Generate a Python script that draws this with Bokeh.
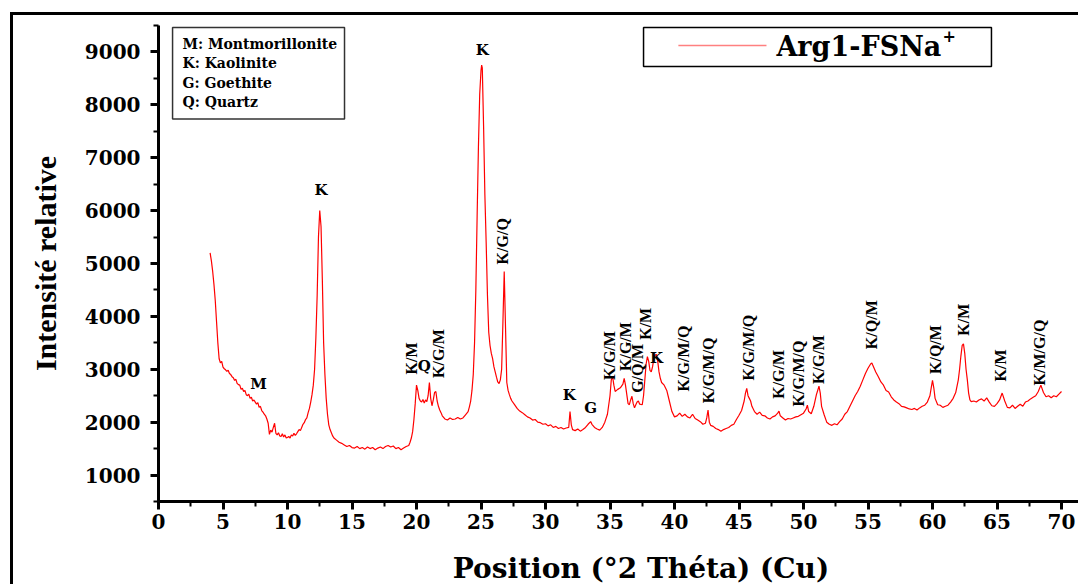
import math
from bokeh.plotting import figure
from bokeh.models import ColumnDataSource, SingleIntervalTicker, Range1d
from bokeh.core.properties import value
from bokeh.embed import file_html
from bokeh.resources import INLINE

# ---- data ----
two_theta = [
    4.0, 4.1, 4.2, 4.3, 4.4, 4.5, 4.6, 4.7, 4.8, 4.9, 5.0, 5.1, 5.2, 5.3, 5.4, 5.5, 5.6, 5.7, 5.8, 5.9,
    6.0, 6.1, 6.2, 6.3, 6.4, 6.5, 6.6, 6.7, 6.8, 6.9, 7.0, 7.1, 7.2, 7.3, 7.4, 7.5, 7.6, 7.7, 7.8, 7.9,
    8.0, 8.1, 8.2, 8.3, 8.4, 8.5, 8.6, 8.7, 8.8, 8.9, 9.0, 9.1, 9.2, 9.3, 9.4, 9.5, 9.6, 9.7, 9.8, 9.9,
    10.0, 10.1, 10.2, 10.3, 10.4, 10.5, 10.6, 10.7, 10.8, 10.9, 11.0, 11.1, 11.2, 11.3, 11.4, 11.5, 11.6, 11.7, 11.8, 11.9,
    12.0, 12.1, 12.2, 12.3, 12.4, 12.5, 12.6, 12.7, 12.8, 12.9, 13.0, 13.1, 13.2, 13.3, 13.4, 13.5, 13.6, 13.8,
    14.0, 14.2, 14.4, 14.6, 14.8, 15.0, 15.2, 15.4, 15.6, 15.8, 16.0, 16.2, 16.4, 16.6, 16.8, 17.0, 17.2, 17.4, 17.6, 17.8,
    18.0, 18.2, 18.4, 18.6, 18.8, 19.0, 19.2, 19.4, 19.5, 19.6, 19.7, 19.8, 19.9,
    20.0, 20.1, 20.2, 20.3, 20.4, 20.5, 20.6, 20.7, 20.8, 20.9, 21.0, 21.1, 21.2, 21.3, 21.4, 21.5, 21.6, 21.7, 21.8, 21.9,
    22.0, 22.2, 22.4, 22.6, 22.8, 23.0, 23.2, 23.4, 23.6, 23.8, 24.0, 24.1, 24.2, 24.3, 24.4, 24.5, 24.6, 24.7, 24.8, 24.9,
    25.0, 25.05, 25.1, 25.2, 25.3, 25.4, 25.5, 25.6, 25.7, 25.8, 25.9, 26.0, 26.1, 26.2, 26.3, 26.4, 26.5, 26.6, 26.7, 26.8, 26.9,
    27.0, 27.1, 27.2, 27.3, 27.4, 27.6, 27.8, 28.0, 28.2, 28.4, 28.6, 28.8, 29.0, 29.2, 29.4, 29.6, 29.8,
    30.0, 30.2, 30.4, 30.6, 30.8, 31.0, 31.2, 31.4, 31.6, 31.8, 31.9, 32.0, 32.1, 32.3, 32.5, 32.7, 32.9,
    33.1, 33.3, 33.5, 33.6, 33.8, 34.0, 34.2, 34.4, 34.6, 34.8, 35.0, 35.1, 35.2, 35.3, 35.4, 35.6, 35.8,
    36.0, 36.1, 36.2, 36.4, 36.5, 36.6, 36.7, 36.8, 36.9, 37.0, 37.1, 37.2, 37.3, 37.5, 37.6, 37.7, 37.8, 37.9,
    38.0, 38.1, 38.2, 38.3, 38.4, 38.5, 38.6, 38.7, 38.8, 38.9, 39.0, 39.2, 39.4, 39.6, 39.8,
    40.0, 40.2, 40.4, 40.6, 40.8, 41.0, 41.2, 41.4, 41.6, 41.8, 42.0, 42.2, 42.4, 42.5, 42.6, 42.7, 42.8,
    43.0, 43.2, 43.4, 43.6, 43.8, 44.0, 44.2, 44.4, 44.6, 44.8, 45.0, 45.2, 45.4, 45.5, 45.6, 45.7, 45.8, 45.9,
    46.0, 46.2, 46.4, 46.6, 46.8, 47.0, 47.2, 47.4, 47.6, 47.8, 48.0, 48.1, 48.2, 48.4, 48.6, 48.8,
    49.0, 49.2, 49.4, 49.6, 49.8, 50.0, 50.2, 50.3, 50.4, 50.6, 50.8, 51.0, 51.2, 51.3, 51.4, 51.6, 51.8,
    52.0, 52.2, 52.4, 52.6, 52.8, 53.0, 53.2, 53.4, 53.6, 53.8, 54.0, 54.2, 54.4, 54.6, 54.8,
    55.0, 55.2, 55.3, 55.4, 55.6, 55.8, 56.0, 56.2, 56.4, 56.6, 56.8, 57.0, 57.2, 57.4, 57.6, 57.8,
    58.0, 58.2, 58.4, 58.6, 58.8, 59.0, 59.2, 59.4, 59.6, 59.8, 59.9, 60.0, 60.1, 60.2, 60.4, 60.6, 60.8,
    61.0, 61.2, 61.4, 61.6, 61.8, 62.0, 62.1, 62.2, 62.3, 62.4, 62.5, 62.6, 62.7, 62.8, 62.9,
    63.0, 63.2, 63.4, 63.6, 63.8, 64.0, 64.2, 64.4, 64.6, 64.8, 65.0, 65.2, 65.4, 65.6, 65.8,
    66.0, 66.2, 66.4, 66.6, 66.8, 67.0, 67.2, 67.4, 67.6, 67.8, 68.0, 68.2, 68.4, 68.6, 68.8,
    69.0, 69.2, 69.4, 69.6, 69.8, 70.0,
]
intensity = [
    5200, 5050, 4850, 4600, 4300, 3900, 3500, 3200, 3120, 3150, 3040, 3010, 2990, 2960, 2980, 2920, 2900, 2860, 2840, 2790,
    2810, 2730, 2710, 2700, 2620, 2640, 2580, 2600, 2520, 2500, 2530, 2450, 2470, 2400, 2420, 2380, 2340, 2370, 2280, 2300,
    2220, 2190, 2150, 2120, 2060, 1980, 1770, 1850, 1810, 1900, 1980, 1790, 1760, 1800, 1740, 1730, 1780, 1720, 1760, 1700,
    1710, 1730, 1700, 1760, 1740, 1790, 1750, 1780, 1820, 1860, 1840, 1900, 1960, 1990, 2050, 2080, 2180, 2260, 2380, 2520,
    2700, 3000, 3600, 4400, 5500, 6000, 5700, 4700, 3500, 2900, 2450, 2150, 1950, 1860, 1800, 1740, 1700, 1660,
    1620, 1600, 1570, 1540, 1560, 1520, 1510, 1540, 1500, 1520, 1490, 1530, 1500, 1520, 1480, 1510, 1530, 1500, 1540, 1560,
    1530, 1550, 1500, 1520, 1480, 1510, 1540, 1560, 1620, 1700, 1820, 2050, 2350,
    2700, 2600, 2450, 2400, 2380, 2430, 2360, 2420, 2390, 2500, 2750, 2450, 2310, 2420, 2560, 2580, 2400, 2300, 2230, 2180,
    2120, 2060, 2040, 2080, 2050, 2060, 2090, 2060, 2080, 2140, 2200, 2290, 2400, 2600, 2900, 3500, 4500, 5900, 7200, 8200,
    8650, 8750, 8700, 7600, 6300, 5400, 4400, 3700, 3450, 3300, 3200, 3050, 2950, 2850, 2760, 2730, 2800, 3000, 3900, 4850, 3800,
    2750, 2600, 2520, 2450, 2400, 2330, 2260, 2210, 2180, 2140, 2100, 2080, 2040, 2050, 2000, 1990, 1960,
    1970, 1930, 1950, 1900, 1920, 1880, 1900, 1870, 1890, 1900, 2200, 1950, 1860, 1840, 1870, 1830, 1860,
    1900, 1960, 2010, 1960, 1900, 1870, 1850, 1900, 2000, 2150, 2500, 2800, 2860, 2700, 2580, 2620, 2650,
    2720, 2830, 2700, 2350, 2330, 2420, 2490, 2350, 2270, 2330, 2380, 2400, 2340, 2330, 2500, 2800, 3100, 3240,
    3150, 2980, 2950, 3050, 3200, 3270, 3280, 3150, 2950, 2830, 2750, 2700, 2600, 2400, 2200,
    2100, 2120, 2170, 2110, 2150, 2100, 2080, 2150, 2070, 2040, 2010, 1960, 1980, 2080, 2230, 2000, 1940,
    1920, 1880, 1860, 1830, 1860, 1880, 1900, 1940, 1960, 2050, 2130, 2220, 2400, 2550, 2640, 2500, 2450, 2400,
    2300, 2200, 2150, 2190, 2130, 2120, 2080, 2060, 2100, 2120, 2170, 2210, 2120, 2080, 2040, 2070,
    2060, 2080, 2100, 2110, 2140, 2170, 2250, 2320, 2200, 2160, 2300, 2520, 2680, 2550, 2300, 2140, 2000,
    1960, 1940, 1970, 1950, 2010, 2060, 2150, 2200, 2300, 2400, 2500, 2580, 2680, 2800, 2920,
    3020, 3100, 3120, 3060, 2950, 2860, 2760, 2700, 2600, 2570, 2480, 2420, 2380, 2350, 2300, 2290,
    2270, 2250, 2240, 2260, 2230, 2270, 2300, 2320, 2380, 2500, 2650, 2790, 2650, 2450, 2330, 2320, 2280,
    2300, 2320, 2380, 2450, 2560, 2800, 3000, 3250, 3450, 3480, 3300, 3000, 2800, 2550, 2420,
    2390, 2400, 2380, 2420, 2440, 2400, 2460, 2380, 2310, 2300, 2350, 2420, 2550, 2400, 2280,
    2270, 2320, 2260, 2300, 2340, 2300, 2380, 2400, 2440, 2470, 2500, 2580, 2700, 2560, 2480,
    2500, 2460, 2500, 2480, 2530, 2580,
]

# peak annotations: position, height, text
peak_x = [7.75, 12.6, 25.1, 20.6, 31.85, 33.5, 38.6,
          19.6, 21.7, 26.7, 34.95, 36.2, 37.1, 37.75, 40.7, 42.6, 45.7, 48.1, 49.6, 51.2, 55.3, 60.2, 62.4, 65.3, 68.3]
peak_y = [2716, 6397, 9045, 3054, 2509, 2265, 3204,
          3204, 3298, 5420, 3260, 3430, 3016, 3860, 3204, 2980, 3410, 2904, 2920, 3185, 3843, 3373, 3937, 3073, 3317]
peak_text = ["M", "K", "K", "Q", "K", "G", "K",
             "K/M", "K/G/M", "K/G/Q", "K/G/M", "K/G/M", "G/Q/M", "K/M", "K/G/M/Q", "K/G/M/Q", "K/G/M/Q",
             "K/G/M", "K/G/M/Q", "K/G/M", "K/Q/M", "K/Q/M", "K/M", "K/M", "K/M/G/Q"]
n_upright = 7

phase_key = ["M: Montmorillonite", "K: Kaolinite", "G: Goethite", "Q: Quartz"]
series_name = "Arg1-FSNa"

X_MIN, X_MAX = 0, 71.55
Y_MIN, Y_MAX = 500, 9500

p = figure(width=1068, height=572, output_backend="svg", toolbar_location=None,
           x_range=Range1d(X_MIN, X_MAX), y_range=Range1d(Y_MIN, Y_MAX),
           min_border_left=145, min_border_right=0, min_border_top=10, min_border_bottom=83)
p.styles = {"margin-left": "10px", "margin-top": "12px",
            "border-top": "3px solid black", "border-left": "3px solid black"}
p.outline_line_color = None
p.xgrid.grid_line_color = None
p.ygrid.grid_line_color = None
p.background_fill_color = "white"
p.border_fill_color = "white"

p.line(two_theta, intensity, line_color="#ff0000", line_width=1.2)

# axes
for ax in (p.xaxis[0], p.yaxis[0]):
    ax.axis_line_width = 3
    ax.axis_line_color = "black"
    ax.major_tick_line_width = 3
    ax.minor_tick_line_width = 2
    ax.major_tick_in = 0
    ax.major_tick_out = 8
    ax.minor_tick_in = 0
    ax.minor_tick_out = 5
    ax.major_label_text_font = "DejaVu Serif"
    ax.major_label_text_font_style = "bold"
    ax.major_label_text_color = "black"
    ax.major_label_text_font_size = "20px"
    ax.axis_label_text_font_style = "bold"
    ax.axis_label_text_color = "black"

p.xaxis.ticker = SingleIntervalTicker(interval=5, num_minor_ticks=2)
p.yaxis.ticker = SingleIntervalTicker(interval=1000, num_minor_ticks=2)
p.xaxis.major_label_standoff = 4
p.yaxis.major_label_standoff = 10
p.xaxis.axis_label = "\u2003\u2002Position (°2 Théta) (Cu)"
p.xaxis.axis_label_text_font = "DejaVu Serif"
p.xaxis.axis_label_text_font_size = "28px"
p.xaxis.axis_label_standoff = 20
p.yaxis.axis_label = "Intensité relative"
p.yaxis.axis_label_text_font = "Liberation Serif"
p.yaxis.axis_label_text_font_size = "30px"
p.yaxis.axis_label_standoff = 20

# peak labels
up = dict(x=peak_x[:n_upright], y=peak_y[:n_upright], t=peak_text[:n_upright])
vt = dict(x=peak_x[n_upright:], y=peak_y[n_upright:], t=peak_text[n_upright:])
p.text(x="x", y="y", text="t", source=ColumnDataSource(up),
       text_font=value("DejaVu Serif"), text_font_style="bold", text_font_size="15px",
       text_align="center", text_baseline="middle", text_color="black")
p.text(x="x", y="y", text="t", source=ColumnDataSource(vt), angle=math.pi / 2,
       text_font=value("Liberation Serif"), text_font_style="bold", text_font_size="16px",
       text_align="center", text_baseline="middle", text_color="black")

# phase key box (top-left)
p.quad(left=[1.09], right=[14.42], top=[9460], bottom=[7730],
       fill_color="white", line_color="#333333", line_width=1.5)
p.text(x=[1.86] * 4, y=[9157, 8800, 8406, 8050], text=phase_key,
       text_font=value("DejaVu Serif"), text_font_style="bold", text_font_size="14px",
       text_align="left", text_baseline="middle", text_color="black")

# series legend (top-right)
p.quad(left=[37.6], right=[64.57], top=[9460], bottom=[8726],
       fill_color="white", line_color="black", line_width=1.5)
p.line(x=[40.3, 47.13], y=[9120, 9120], line_color="#ff8080", line_width=1.5)
p.text(x=[47.9], y=[9100], text=[series_name],
       text_font=value("DejaVu Serif"), text_font_style="bold", text_font_size="27px",
       text_align="left", text_baseline="middle", text_color="black")
p.text(x=[61.3], y=[9300], text=["+"],
       text_font=value("DejaVu Serif"), text_font_style="bold", text_font_size="16px",
       text_align="center", text_baseline="middle", text_color="black")

open("out.html", "w").write(file_html(p, INLINE))
